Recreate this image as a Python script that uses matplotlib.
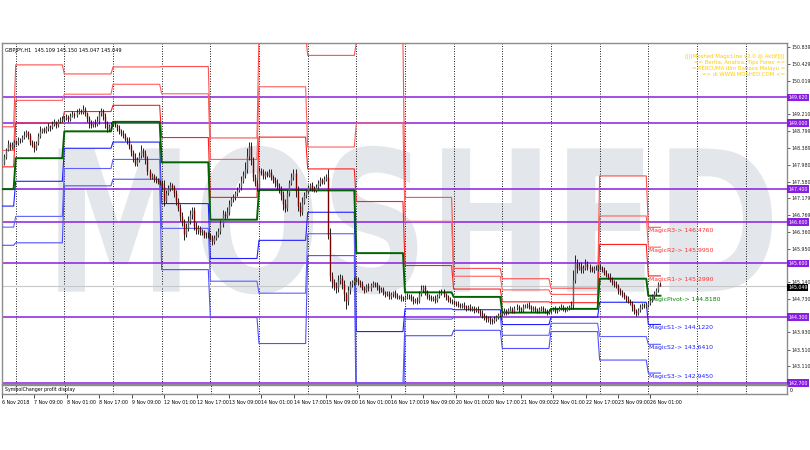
import matplotlib
matplotlib.use("Agg")
import matplotlib.pyplot as plt
from matplotlib.textpath import TextPath
from matplotlib.patches import PathPatch
from matplotlib.font_manager import FontProperties
from matplotlib.transforms import Affine2D

# ---- data (GBPJPY H1, 6 Nov 17:00 .. 26 Nov 06:00) ----
first_open = 147.95
closes = [
    # 6 Nov 17:00-23:00
    148.02, 148.18, 148.35, 148.50, 148.42, 148.48, 148.55,
    # 7 Nov
    148.52, 148.60, 148.58, 148.66, 148.72, 148.78, 148.70, 148.55, 148.48, 148.40, 148.52, 148.68,
    148.82, 148.85, 148.80, 148.88, 148.92, 148.90, 148.98, 149.02, 148.96, 149.05, 149.08, 149.10,
    # 8 Nov
    149.12, 149.15, 149.10, 149.18, 149.22, 149.20, 149.26, 149.30, 149.28, 149.34, 149.25, 149.12,
    149.00, 148.95, 149.02, 148.98, 149.05, 149.25, 149.30, 149.18, 149.00, 148.85, 148.92, 148.98,
    # 9 Nov
    149.00, 148.95, 148.88, 148.80, 148.75, 148.70, 148.62, 148.58, 148.45, 148.30, 148.18, 148.02,
    148.10, 148.22, 148.35, 148.28, 148.12, 147.85, 147.70, 147.72, 147.65, 147.62, 147.58, 147.55,
    # 12 Nov
    147.48, 147.12, 147.30, 147.42, 147.50, 147.45, 147.30, 147.12, 146.95, 146.75, 146.60, 146.32,
    146.45, 146.62, 146.80, 146.90, 146.50, 146.40, 146.45, 146.35, 146.38, 146.30, 146.28, 146.30,
    # 13 Nov
    146.25, 146.15, 146.22, 146.30, 146.38, 146.55, 146.80, 146.75, 146.85, 147.05, 147.15, 147.20,
    147.30, 147.38, 147.45, 147.60, 147.75, 147.90, 148.20, 148.45, 148.10, 147.70, 147.55, 147.42,
    # 14 Nov
    147.85, 147.80, 147.72, 147.78, 147.75, 147.82, 147.70, 147.62, 147.55, 147.48, 147.40, 147.25,
    147.05, 146.95, 147.30, 147.55, 147.70, 147.80, 147.35, 147.00, 146.85, 147.10, 147.25, 147.35,
    # 15 Nov
    147.45, 147.50, 147.42, 147.38, 147.45, 147.55, 147.62, 147.58, 147.65, 147.70, 146.30, 145.30,
    145.15, 145.05, 145.00, 145.20, 145.25, 145.10, 144.85, 144.70, 144.95, 145.10, 145.15, 145.20,
    # 16 Nov
    145.22, 145.15, 145.10, 145.00, 144.95, 145.05, 145.00, 145.08, 145.12, 145.10, 145.02, 144.95,
    144.98, 144.90, 144.85, 144.88, 144.80, 144.85, 144.90, 144.82, 144.78, 144.80, 144.76, 144.75,
    # 19 Nov
    144.78, 144.82, 144.80, 144.75, 144.70, 144.72, 144.68, 144.85, 144.98, 145.02, 144.90, 144.82,
    144.78, 144.74, 144.76, 144.72, 144.80, 144.88, 144.92, 144.85, 144.78, 144.72, 144.70, 144.68,
    # 20 Nov
    144.65, 144.62, 144.60, 144.58, 144.60, 144.55, 144.52, 144.55, 144.50, 144.52, 144.48, 144.50,
    144.45, 144.40, 144.35, 144.30, 144.25, 144.28, 144.22, 144.20, 144.25, 144.30, 144.35, 144.38,
    # 21 Nov
    144.40, 144.45, 144.42, 144.48, 144.50, 144.46, 144.52, 144.55, 144.50, 144.48, 144.55, 144.58,
    144.60, 144.55, 144.50, 144.52, 144.48, 144.45, 144.50, 144.52, 144.48, 144.45, 144.42, 144.45,
    # 22 Nov
    144.48, 144.50, 144.45, 144.48, 144.52, 144.55, 144.50, 144.48, 144.52, 144.55, 144.60, 145.20,
    145.60, 145.50, 145.55, 145.45, 145.50, 145.58, 145.52, 145.48, 145.45, 145.50, 145.48, 145.52,
    # 23 Nov
    145.50, 145.45, 145.38, 145.32, 145.28, 145.20, 145.15, 145.10, 145.05, 144.95, 144.90, 144.85,
    144.80, 144.75, 144.70, 144.65, 144.55, 144.45, 144.40, 144.48, 144.55, 144.60, 144.58, 144.60,
    # 26 Nov 00:00-06:00
    144.65, 144.72, 144.80, 144.88, 144.95, 145.109, 145.049,
]
# wick sizes in pips above the body top / below the body bottom
wick_up = [
    4, 6, 5, 8, 3, 5, 4,
    5, 7, 4, 6, 9, 5, 3, 6, 4, 8, 5, 7, 10, 4, 6, 5, 8, 3, 6, 9, 4, 5, 7, 6,
    5, 8, 4, 6, 7, 5, 9, 6, 4, 10, 5, 3, 6, 8, 4, 7, 12, 5, 6, 3, 7, 5, 6, 4,
    5, 6, 4, 7, 5, 8, 6, 4, 9, 5, 6, 10, 7, 8, 12, 5, 6, 8, 4, 6, 5, 7, 4, 5,
    6, 15, 8, 9, 7, 5, 6, 8, 7, 9, 10, 8, 14, 12, 9, 6, 7, 10, 8, 5, 6, 4, 5, 6,
    4, 5, 6, 8, 7, 10, 9, 6, 12, 8, 7, 9, 6, 8, 10, 12, 9, 15, 20, 10, 8, 9, 7, 6,
    8, 6, 9, 5, 7, 8, 6, 5, 7, 9, 6, 8, 10, 12, 9, 7, 8, 10, 9, 12, 8, 10, 7, 6,
    5, 6, 8, 5, 7, 6, 8, 5, 7, 6, 20, 15, 10, 8, 9, 12, 10, 8, 9, 7, 10, 8, 6, 7,
    5, 6, 4, 7, 5, 6, 8, 5, 6, 4, 5, 7, 6, 5, 4, 6, 5, 7, 4, 5, 6, 4, 5, 4,
    5, 6, 4, 5, 7, 5, 6, 8, 10, 7, 6, 5, 4, 6, 5, 7, 6, 8, 5, 6, 4, 5, 6, 4,
    4, 5, 6, 4, 5, 6, 4, 5, 6, 4, 5, 4, 6, 5, 7, 5, 6, 4, 5, 6, 7, 5, 6, 4,
    5, 6, 4, 5, 6, 4, 5, 6, 4, 5, 6, 4, 5, 6, 4, 5, 6, 4, 5, 6, 4, 5, 4, 5,
    4, 5, 6, 4, 5, 6, 4, 5, 6, 4, 8, 25, 20, 10, 8, 9, 7, 12, 8, 6, 7, 5, 6, 5,
    6, 5, 7, 6, 5, 8, 6, 5, 7, 6, 5, 6, 5, 4, 6, 5, 4, 6, 5, 4, 6, 5, 4, 5,
    5, 6, 5, 6, 5, 4, 4,
]
wick_dn = [
    6, 4, 5, 3, 7, 4, 5,
    4, 5, 7, 3, 5, 6, 8, 9, 7, 10, 6, 4, 5, 7, 5, 4, 6, 8, 5, 4, 7, 5, 4, 6,
    6, 4, 7, 5, 4, 8, 5, 4, 7, 5, 8, 10, 12, 6, 5, 7, 5, 6, 9, 10, 12, 6, 5, 7,
    6, 5, 8, 6, 7, 5, 6, 9, 8, 10, 12, 6, 7, 5, 6, 9, 12, 10, 6, 5, 7, 6, 5, 6,
    10, 12, 6, 5, 7, 6, 8, 10, 9, 12, 10, 15, 8, 6, 7, 12, 10, 8, 9, 7, 6, 8, 6, 7,
    8, 10, 7, 6, 5, 7, 6, 8, 5, 7, 6, 5, 7, 6, 5, 7, 6, 8, 10, 9, 12, 10, 8, 6,
    6, 5, 7, 8, 6, 5, 7, 8, 9, 7, 10, 12, 15, 10, 8, 6, 5, 7, 15, 12, 10, 8, 7, 6,
    5, 7, 6, 5, 6, 5, 7, 6, 5, 6, 10, 12, 15, 10, 12, 8, 10, 12, 15, 20, 10, 8, 7, 6,
    5, 6, 7, 5, 6, 5, 7, 6, 5, 6, 7, 6, 5, 6, 7, 5, 6, 5, 7, 6, 5, 4, 6, 5,
    4, 5, 6, 7, 8, 5, 6, 4, 5, 6, 7, 8, 6, 5, 6, 7, 5, 4, 5, 6, 7, 6, 5, 6,
    5, 6, 5, 6, 5, 6, 7, 5, 6, 5, 7, 5, 6, 7, 6, 8, 7, 6, 8, 7, 5, 4, 5, 4,
    5, 4, 6, 5, 4, 6, 5, 4, 7, 6, 5, 4, 6, 5, 7, 6, 5, 6, 5, 4, 6, 5, 6, 5,
    5, 4, 6, 5, 4, 5, 6, 5, 4, 5, 6, 10, 8, 12, 7, 9, 8, 6, 7, 8, 6, 7, 5, 6,
    5, 6, 7, 6, 5, 6, 7, 6, 5, 8, 6, 7, 6, 8, 7, 6, 9, 8, 7, 6, 5, 6, 5, 6,
    6, 5, 6, 5, 4, 5, 0,
]

# first H1 bar of each trading day (bar index) and the daily MagicLine levels
day_start = [0, 7, 31, 55, 79, 103, 127, 151, 175, 199, 223, 247, 271, 295, 319]
last_bar = 325
future_days = [343, 367]
r3 = [148.91, 150.41, 150.19, 150.36, 150.37, 148.64, 151.16, 150.64, 150.95, 147.20, 145.48, 145.23, 145.00, 147.72, 146.476]
r2 = [148.34, 149.55, 149.70, 149.94, 149.71, 148.12, 149.88, 148.42, 149.00, 146.62, 145.29, 144.96, 144.85, 146.75, 145.995]
r1 = [147.94, 149.00, 149.28, 149.43, 148.65, 147.20, 148.66, 147.89, 147.10, 145.55, 144.98, 144.67, 144.65, 146.06, 145.299]
pivot = [147.40, 148.15, 148.80, 149.03, 148.05, 146.66, 147.38, 147.37, 145.85, 144.90, 144.79, 144.41, 144.50, 145.23, 144.818]
s1 = [146.99, 147.59, 148.39, 148.54, 147.05, 145.72, 146.16, 146.84, 143.95, 144.50, 144.48, 144.12, 144.30, 144.66, 144.122]
s2 = [146.48, 146.74, 147.90, 148.12, 146.45, 145.17, 144.88, 146.32, 142.70, 144.25, 144.29, 143.86, 144.15, 143.83, 143.641]
s3 = [146.04, 146.10, 147.48, 147.64, 145.45, 144.29, 143.66, 145.79, 141.45, 143.85, 143.98, 143.54, 143.95, 143.26, 142.945]

# horizontal support / resistance lines drawn on the chart
sr_levels = [149.620, 149.000, 147.400, 146.600, 145.600, 144.300, 142.700]
bid = 145.049

ytick_labels = ["143.110", "143.510", "143.930", "144.730", "145.140",
                "145.950", "146.360", "146.769", "147.179", "147.580", "147.980", "148.389",
                "148.799", "149.210", "150.019", "150.429", "150.839"]
time_labels = ["6 Nov 2018", "7 Nov 09:00", "8 Nov 01:00", "8 Nov 17:00", "9 Nov 09:00",
               "12 Nov 01:00", "12 Nov 17:00", "13 Nov 09:00", "14 Nov 01:00", "14 Nov 17:00",
               "15 Nov 09:00", "16 Nov 01:00", "16 Nov 17:00", "19 Nov 09:00", "20 Nov 01:00",
               "20 Nov 17:00", "21 Nov 09:00", "22 Nov 01:00", "22 Nov 17:00", "23 Nov 09:00",
               "26 Nov 01:00"]
info_lines = ["|||[Moshed MagicLine v2.0 @ Aktif]|||",
              "== Berita, Analisa, Tips Forex ==",
              "= PERCUMA dlm Bahasa Melayu =",
              "=> di WWW.MOSHED.COM <="]

W, H = 810, 450
fig = plt.figure(figsize=(W / 100, H / 100), dpi=100)
fig.patch.set_facecolor("white")

ax = fig.add_axes([2 / W, 66 / H, 785 / W, 341 / H])
ax2 = fig.add_axes([2 / W, 56 / H, 785 / W, 9 / H])
xlim = (0.25, 387.4)
ylim = (142.68, 150.94)

# watermark
fp = FontProperties(family="DejaVu Sans", weight="bold")
tp = TextPath((0, 0), "MOSHED", prop=fp, size=100)
bb = tp.get_extents()
x0, x1 = 28, 380   # bar range of the word
y0, y1 = 144.85, 148.45
tr = Affine2D().translate(-bb.x0, -bb.y0).scale((x1 - x0) / bb.width, (y1 - y0) / bb.height).translate(x0, y0)
ax.add_patch(PathPatch(tr.transform_path(tp), facecolor="#e3e6ea", edgecolor="none", zorder=0))

# day separators
for b in day_start[1:] + future_days:
    for a in (ax, ax2):
        a.axvline(b, color="black", lw=0.6, ls=(0, (1.2, 1.8)), zorder=1)

# bid line
ax.axhline(bid, color="#c8c8c8", lw=0.8, zorder=1)

# support / resistance lines
for lv in sr_levels:
    ax.axhline(lv, color="#8a1ee0", lw=1.1, zorder=2)

# magic lines
def level_path(vals):
    xs, ys = [], []
    for k, v in enumerate(vals):
        end = day_start[k + 1] - 1 if k + 1 < len(day_start) else last_bar
        xs += [day_start[k], end]
        ys += [v, v]
    return xs, ys

for vals, col, lw in [(r3, "#ff5050", 0.8), (r2, "#ff6060", 0.8), (r1, "#ff2020", 0.8),
                      (s1, "#2020ff", 0.8), (s2, "#6060ff", 0.8), (s3, "#5050ff", 0.8),
                      (pivot, "#006400", 1.4)]:
    xs, ys = level_path(vals)
    ax.plot(xs, ys, color=col, lw=lw, zorder=3)

# candles
opens = [first_open] + closes[:-1]
bars = list(range(len(closes)))
highs = [max(o, c) + u / 100 for o, c, u in zip(opens, closes, wick_up)]
lows = [min(o, c) - d / 100 for o, c, d in zip(opens, closes, wick_dn)]
highs[-1], lows[-1] = 145.150, 145.047
ax.vlines(bars, lows, highs, color="#202020", lw=0.7, zorder=4)
up = [i for i in bars if closes[i] >= opens[i]]
dn = [i for i in bars if closes[i] < opens[i]]
ax.vlines(up, [opens[i] for i in up], [closes[i] for i in up], color="#606060", lw=1.0, zorder=5)
ax.vlines(dn, [closes[i] for i in dn], [opens[i] for i in dn], color="#7a0000", lw=1.0, zorder=5)

# magic labels for the current day
lab_names = ["MagicR3", "MagicR2", "MagicR1", "MagicPivot", "MagicS1", "MagicS2", "MagicS3"]
lab_vals = [r3[-1], r2[-1], r1[-1], pivot[-1], s1[-1], s2[-1], s3[-1]]
lab_cols = ["#ff3030", "#ff3030", "#ff3030", "#008000", "#2020ff", "#2020ff", "#2020ff"]
for n, v, c in zip(lab_names, lab_vals, lab_cols):
    ax.text(day_start[-1] + 0.5, v - 0.02, f"{n}-> {v:.4f}", color=c, fontsize=4.4,
            va="top", ha="left", zorder=6)

ax.set_xlim(*xlim)
ax.set_ylim(*ylim)
ax.set_xticks([])
ax.yaxis.tick_right()
ax.set_yticks([float(s) for s in ytick_labels])
ax.set_yticklabels(ytick_labels)
ax.tick_params(axis="y", length=2.5, width=0.5, pad=1, labelsize=3.4, colors="#202020")
for sp in ax.spines.values():
    sp.set_color("#8c8c8c")
    sp.set_linewidth(1.0)

# level tags on the price scale
for lv in sr_levels:
    ax.text(1.0015, lv, f"{lv:.3f}", transform=ax.get_yaxis_transform(), fontsize=3.4,
            color="white", va="center", ha="left", clip_on=False, zorder=10,
            bbox=dict(boxstyle="square,pad=0.25", fc="#8a1ee0", ec="none"))
ax.text(1.0015, bid - 0.03, f"{bid:.3f}", transform=ax.get_yaxis_transform(), fontsize=3.4,
        color="white", va="center", ha="left", clip_on=False, zorder=10,
        bbox=dict(boxstyle="square,pad=0.15", fc="black", ec="none"))

# header and info text
ax.text(0.004, 0.985, "GBPJPY,H1  145.109 145.150 145.047 145.049", transform=ax.transAxes,
        fontsize=3.6, va="top", ha="left", color="black")
for k, line in enumerate(info_lines):
    ax.text(0.9975, 0.97 - k * 0.0185, line, transform=ax.transAxes, fontsize=3.9,
            va="top", ha="right", color="#ffcc00")

# indicator subwindow and time scale
ax2.set_xlim(*xlim)
ax2.set_ylim(0, 1)
ax2.yaxis.tick_right()
ax2.set_yticks([0.5])
ax2.set_yticklabels(["0"])
ax2.tick_params(axis="y", length=0, pad=2, labelsize=3.4)
ax2.text(0.004, 0.5, "SymbolChanger profit display", transform=ax2.transAxes, fontsize=3.4,
         va="center", ha="left")
ax2.set_xticks(list(range(0, 16 * len(time_labels), 16)))
ax2.set_xticklabels(time_labels)
ax2.tick_params(axis="x", length=3, width=0.5, pad=1.5, labelsize=3.4, direction="out")
for t in ax2.get_xticklabels():
    t.set_ha("left")
for sp in ax2.spines.values():
    sp.set_color("#8c8c8c")
    sp.set_linewidth(1.0)

fig.savefig("out.png", dpi=100, facecolor="white")
